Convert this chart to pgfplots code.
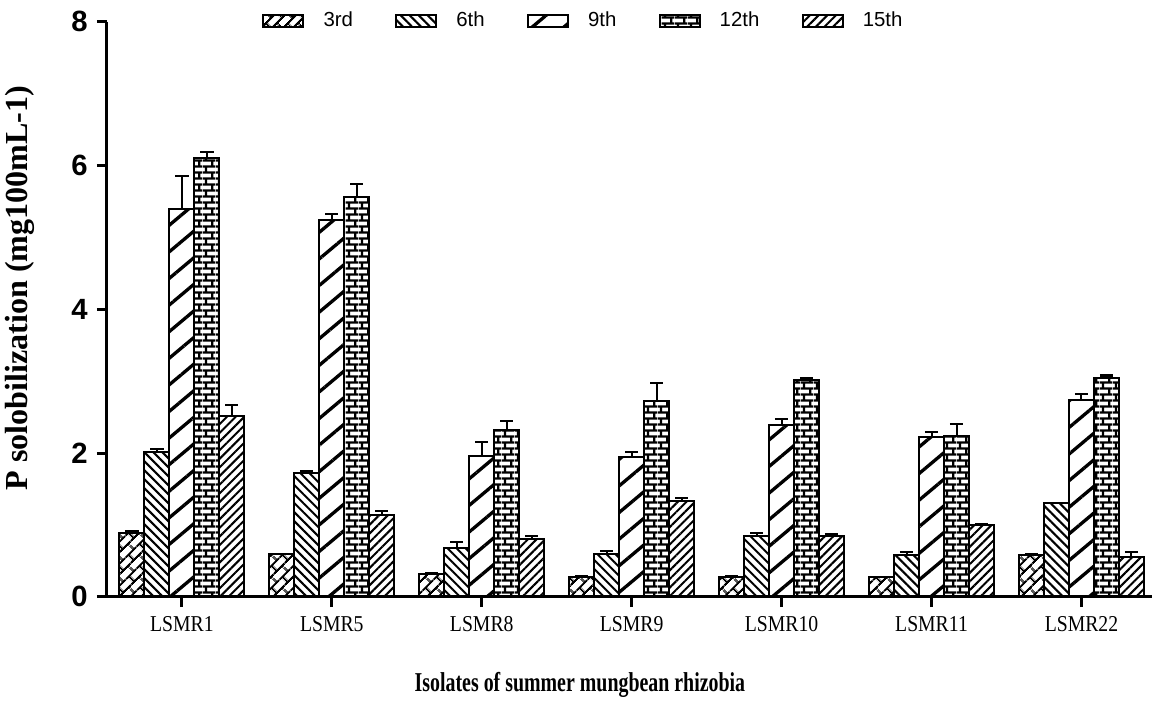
\documentclass[border=0pt]{standalone}
\usepackage{fontspec}
\setmainfont{Liberation Serif}
\setsansfont{Liberation Sans}
\newfontfamily\tickserif{Liberation Serif}[FakeStretch=0.87]
\newfontfamily\labelserif{Liberation Serif}[FakeStretch=0.73]
\usepackage{pgfplots}
\pgfplotsset{compat=1.18}
\usepackage{pgfplotstable}
\usetikzlibrary{patterns.meta}

\tikzdeclarepattern{name=smallbricks, type=uncolored,
  bounding box={(0pt,0pt) and (5pt,4.7pt)}, tile size={(5pt,4.7pt)},
  code={\draw[line width=0.9pt] (0pt,0.6pt)--(5pt,0.6pt) (0pt,2.95pt)--(5pt,2.95pt)
        (1.25pt,0.6pt)--(1.25pt,2.95pt) (3.75pt,2.95pt)--(3.75pt,4.7pt) (3.75pt,0pt)--(3.75pt,0.6pt);}}
\tikzdeclarepattern{name=diagbricks, type=uncolored,
  bounding box={(0pt,0pt) and (6pt,6pt)}, tile size={(6pt,6pt)},
  tile transformation={rotate=45},
  code={\draw[line width=0.8pt] (0pt,0.75pt)--(6pt,0.75pt) (0pt,3.75pt)--(6pt,3.75pt)
        (1.5pt,0.75pt)--(1.5pt,3.75pt) (4.5pt,3.75pt)--(4.5pt,6pt) (4.5pt,0pt)--(4.5pt,0.75pt);}}

\pgfplotstableread{
x  y3   e3   y6   e6   y9   e9   y12  e12  y15  e15
0  0.89 0.02 2.01 0.05 5.39 0.47 6.10 0.09 2.51 0.16
1  0.59 0.01 1.72 0.03 5.25 0.08 5.56 0.19 1.14 0.05
2  0.32 0.01 0.68 0.08 1.96 0.20 2.32 0.13 0.81 0.04
3  0.28 0.01 0.60 0.04 1.95 0.07 2.73 0.24 1.33 0.05
4  0.28 0.01 0.84 0.05 2.39 0.08 3.02 0.02 0.85 0.02
5  0.27 0.01 0.58 0.04 2.23 0.07 2.24 0.16 1.00 0.02
6  0.58 0.01 1.30 0.01 2.74 0.08 3.04 0.04 0.56 0.06
}\data

\begin{document}
\begin{tikzpicture}
\useasboundingbox (-42.0pt,-45.6pt) rectangle (411.6pt,234.4pt);
\begin{axis}[
  at={(0pt,0pt)}, anchor=south west,
  scale only axis, width=410.4pt, height=225.8pt,
  xmin=-0.5, xmax=6.47, ymin=0, ymax=8,
  axis x line*=bottom, axis y line*=left,
  axis line style={line width=1.2pt, black},
  axis on top,
  xtick={0,...,6},
  xticklabels={LSMR1,LSMR5,LSMR8,LSMR9,LSMR10,LSMR11,LSMR22},
  ytick={0,2,4,6,8},
  tick pos=left,
  xtick align=outside, ytick align=outside, major tick length=4pt,
  tick style={line width=1.2pt, black},
  xticklabel style={font=\tickserif\fontsize{8.9}{10}\selectfont},
  yticklabel style={font=\sffamily\bfseries\fontsize{11.5}{12}\selectfont},
  /pgf/number format/assume math mode=true,
  xlabel={Isolates of summer mungbean rhizobia},
  ylabel={P solobilization (mg100mL-1)},
  xlabel style={at={(axis description cs:0.4526,-0.153)}, anchor=center,
    font=\labelserif\bfseries\fontsize{10.7}{12}\selectfont},
  ylabel style={at={(axis description cs:-0.0833,0.537)}, anchor=center,
    font=\bfseries\fontsize{12.6}{13}\selectfont},
  ybar, bar width=0.1667,
  every axis plot/.append style={draw=black, line width=0.8pt,
    legend image code/.code={\draw[##1,draw=black,line width=0.8pt] (0pt,-2.5pt) rectangle (15.7pt,2.5pt);}},
  error bars/y dir=plus, error bars/y explicit,
  error bars/error bar style={line width=0.8pt, black},
  error bars/error mark options={rotate=90, line width=0.8pt, black, mark size=2.6pt},
  legend style={draw=none, fill=none, at={(0.1483,1.0017)}, anchor=west,
    inner sep=0pt, font=\sffamily\fontsize{8}{9}\selectfont,
    /tikz/every odd column/.append style={column sep=5.5pt},
    /tikz/every even column/.append style={column sep=14.6pt}},
  legend columns=5, legend cell align=left,
]
\addplot[bar shift=-0.3333, pattern={diagbricks}] table[x=x, y=y3, y error=e3]{\data};
\addplot[bar shift=-0.1667, pattern={Lines[angle=-45, distance=2.5pt, line width=0.8pt]}] table[x=x, y=y6, y error=e6]{\data};
\addplot[bar shift=0, pattern={Lines[angle=40, distance=8pt, line width=1.3pt]}] table[x=x, y=y9, y error=e9]{\data};
\addplot[bar shift=0.1667, pattern={smallbricks}] table[x=x, y=y12, y error=e12]{\data};
\addplot[bar shift=0.3333, pattern={Lines[angle=45, distance=2.4pt, line width=0.8pt]}] table[x=x, y=y15, y error=e15]{\data};
\legend{3rd,6th,9th,12th,15th}
\end{axis}
\end{tikzpicture}
\end{document}
